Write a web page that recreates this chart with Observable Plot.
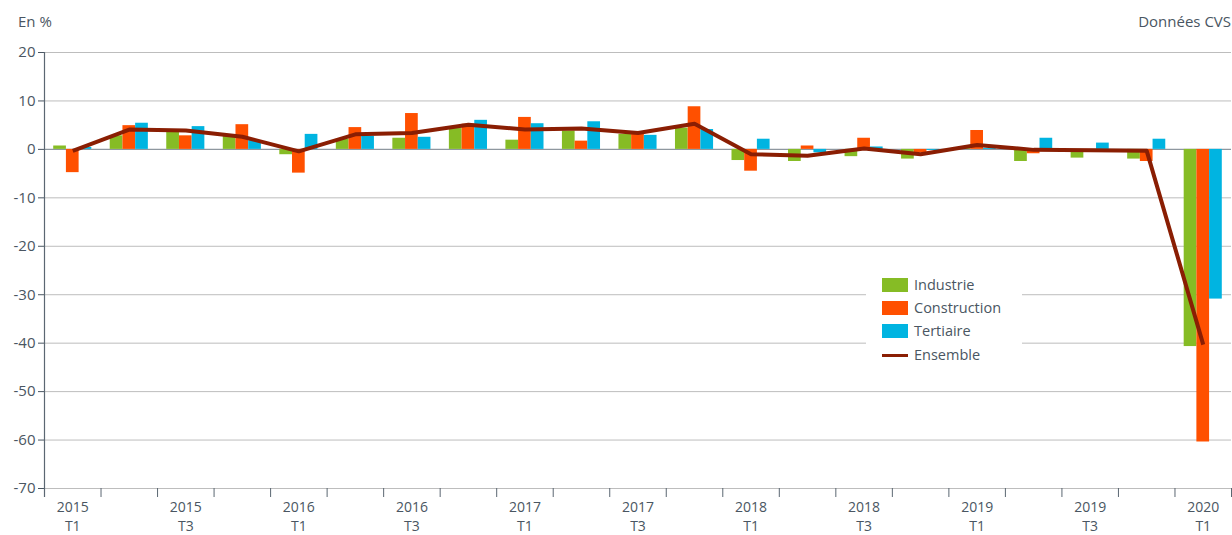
<!DOCTYPE html>
<html><head><meta charset="utf-8">
<script src="https://cdn.jsdelivr.net/npm/d3@7"></script>
<script src="https://cdn.jsdelivr.net/npm/@observablehq/plot@0.6"></script>
<style>
body{margin:0;background:#fff;font-family:"Open Sans",sans-serif;color:#4a5662;}
#wrap{position:relative;width:1232px;height:535px;overflow:hidden;}
#wrap svg{position:absolute;left:0;top:0;}
.ttl{position:absolute;top:11px;font-size:15px;line-height:20px;white-space:nowrap;}
#legend{position:absolute;left:866px;top:268px;width:156px;height:98px;background:#fff;}
.item{position:absolute;left:16px;height:20px;font-size:14.5px;line-height:20px;white-space:nowrap;}
.item .sw{position:absolute;left:0;top:3px;width:26px;height:14px;}
.item .ln{position:absolute;left:0;top:8.5px;width:26px;height:3.5px;}
.item span{position:absolute;left:32px;top:0;}
</style></head><body>
<div id="wrap">
  <div class="ttl" style="left:18px">En %</div>
  <div class="ttl" style="right:1px">Données CVS</div>
</div>
<script>
// ---- data ----
const quarters = ["2015 T1","2015 T2","2015 T3","2015 T4","2016 T1","2016 T2","2016 T3","2016 T4",
  "2017 T1","2017 T2","2017 T3","2017 T4","2018 T1","2018 T2","2018 T3","2018 T4",
  "2019 T1","2019 T2","2019 T3","2019 T4","2020 T1"];
const industrie    = [0.7, 2.8, 3.9, 2.8, -1.1, 2.1, 2.3, 4.3, 1.9, 3.8, 3.1, 4.4, -2.3, -2.5, -1.5, -2.0, 0.3, -2.5, -1.8, -2.0, -40.7];
const construction = [-4.8, 4.9, 2.8, 5.1, -4.9, 4.5, 7.4, 5.2, 6.6, 1.7, 3.3, 8.8, -4.5, 0.7, 2.3, -0.7, 3.9, -0.9, -0.2, -2.5, -60.4];
const tertiaire    = [0.4, 5.4, 4.7, 1.8, 3.1, 2.7, 2.5, 6.0, 5.3, 5.7, 2.9, 4.1, 2.1, -0.7, 0.5, -0.2, 0.2, 2.3, 1.3, 2.1, -30.9];
const ensemble     = [-0.3, 4.1, 3.9, 2.6, -0.4, 3.1, 3.4, 5.1, 4.1, 4.3, 3.4, 5.3, -1.0, -1.3, 0.2, -1.0, 0.9, -0.1, -0.2, -0.3, -40.3];
const seriesNames  = ["Industrie","Construction","Tertiaire"];
const lineName     = "Ensemble";
const yTicks       = [-70,-60,-50,-40,-30,-20,-10,0,10,20];

// ---- styles ----
const colors = {Industrie:"#86bc25", Construction:"#ff5000", Tertiaire:"#00b4e1", Ensemble:"#8a1e03"};
const W = 1232, H = 535, mL = 44, mR = 1, mT = 52, yBottomPx = 488, frameBottomPx = 497;
const bw = (W - mL - mR) / quarters.length;
const barW = 12.7, pad0 = (bw - 3 * barW) / 2;

const seriesVals = [industrie, construction, tertiaire];
const barRows = seriesNames.map((s, k) => quarters.map((q, i) => ({i, q, s, v: seriesVals[k][i]})));
const lineRows = quarters.map((q, i) => ({i, q, v: ensemble[i]}));
const labelRows = quarters.map((q, i) => ({i, label: q.split(" ").join("\n")})).filter(d => d.i % 2 === 0);

const chart = Plot.plot({
  width: W, height: H,
  marginLeft: mL, marginRight: mR, marginTop: mT, marginBottom: H - frameBottomPx,
  style: {fontFamily: '"Open Sans", sans-serif', fontSize: "15px", color: "#4a5662", background: "transparent"},
  x: {domain: [0, quarters.length], axis: null},
  y: {domain: [-70, 20], range: [yBottomPx, mT], ticks: yTicks, tickSize: 6, tickPadding: 3, label: null, tickFormat: d => String(d)},
  marks: [
    Plot.ruleY(yTicks.filter(v => v !== 0), {stroke: "#bdbdbd", strokeWidth: 1}),
    Plot.ruleY([0], {stroke: "#8e979f", strokeWidth: 1.3}),
    ...barRows.map((rows, k) => Plot.rectY(rows, {
      x1: d => d.i, x2: d => d.i + 1, y1: 0, y2: "v",
      fill: colors[seriesNames[k]],
      insetLeft: pad0 + k * barW, insetRight: bw - pad0 - (k + 1) * barW
    })),
    Plot.lineY(lineRows, {x: d => d.i + 0.5, y: "v", stroke: colors.Ensemble, strokeWidth: 4, strokeLinejoin: "round", strokeLinecap: "butt"}),
    Plot.ruleX([0], {stroke: "#5b6772", strokeWidth: 1.2}),
    Plot.ruleX(d3.range(0, quarters.length + 1), {stroke: "#5b6772", strokeWidth: 1, insetTop: (frameBottomPx - mT) - 9}),
    Plot.text(labelRows, {x: d => d.i + 0.5, text: "label", frameAnchor: "bottom", lineAnchor: "top", dy: 1, lineHeight: 1.36, fill: "#4a5662", fontSize: 14})
  ]
});
const wrap = document.getElementById("wrap");
wrap.insertBefore(chart, wrap.firstChild);

// legend
const lg = document.createElement("div");
lg.id = "legend";
const tops = [7, 30, 53, 77];
[...seriesNames, lineName].forEach((name, k) => {
  const it = document.createElement("div");
  it.className = "item";
  it.style.top = tops[k] + "px";
  const sw = document.createElement("div");
  sw.className = name === lineName ? "ln" : "sw";
  sw.style.background = colors[name];
  const t = document.createElement("span");
  t.textContent = name;
  it.appendChild(sw); it.appendChild(t);
  lg.appendChild(it);
});
wrap.appendChild(lg);
</script>
</body></html>
